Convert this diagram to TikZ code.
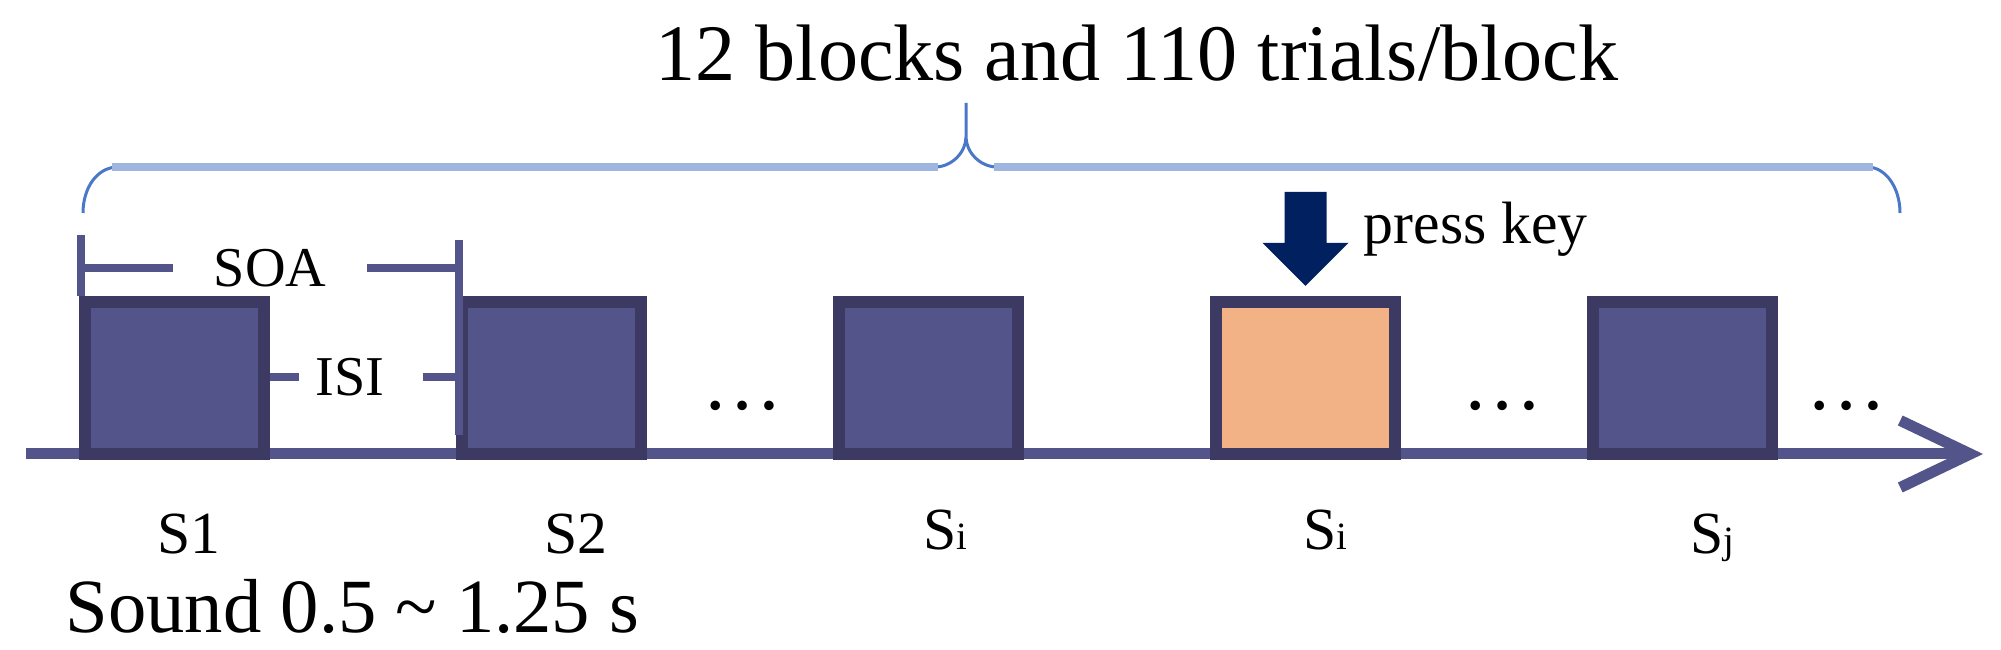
\documentclass[tikz,border=0pt]{standalone}
\usepackage{fontspec}
\setmainfont{Liberation Serif}
\usetikzlibrary{positioning,arrows.meta}
\definecolor{boxfill}{HTML}{53548A}
\definecolor{boxline}{HTML}{3C3A63}
\definecolor{tgtfill}{HTML}{F3B186}
\definecolor{keyblue}{HTML}{002060}
\definecolor{bracelight}{HTML}{9FB7E0}
\definecolor{bracedark}{HTML}{4A78C8}
\tikzset{
    stim/.style     = { rectangle, draw=boxline, line width=1.2mm,
	fill=boxfill, minimum width=17.9mm, minimum height=15.2mm, inner sep=0pt },
	target/.style   = { stim, fill=tgtfill },
	axis/.style     = { draw=boxfill, line width=1.1mm,
	-{Straight Barb[length=7mm,width=6.7mm]} },
	tick/.style     = { draw=boxfill, line width=0.8mm },
	lbl/.style      = { font=\fontsize{17}{20}\selectfont, inner sep=0pt, anchor=base },
	big/.style      = { font=\fontsize{22.8}{27}\selectfont, inner sep=0pt, anchor=base },
	spanlbl/.style  = { font=\fontsize{16}{19}\selectfont, inner ysep=0pt },
}
\newcommand{\subidx}[1]{{\fontsize{11}{11}\selectfont #1}}

\begin{document}
\begin{tikzpicture}[x=0.1mm, y=-0.1mm]
				\useasboundingbox (0,0) rectangle (2001,650);
				\coordinate (t0) at (26,454);
				\coordinate (t1) at (1983,454);
				\draw[axis] (t0) -- (t1);
				\node (s1) [stim] at (174.5,378) {};
				\node (s2) [stim, right=18.6mm of s1] {};
				\node (s3) [stim, right=18.6mm of s2] {};
				\node (s4) [target, right=18.6mm of s3] {};
				\node (s5) [stim, right=18.6mm of s4] {};
				\draw[bracedark, line width=0.3mm] (83,213) .. controls (83,188) and (97,167) .. (118,167) -- (935,167)
				  .. controls (952,167) and (966,152) .. (966,137) -- (966,103) -- (966,137)
				  .. controls (966,152) and (980,167) .. (997,167) -- (1867,167)
				  .. controls (1886,167) and (1900,188) .. (1900,213);
				\draw[bracelight, line width=0.8mm] (112,167) -- (938,167) (994,167) -- (1873,167);
				\node (ttl) [big] at (1137,81) {12 blocks and 110 trials/block};
				\coordinate (soaA) at (81,235);
				\coordinate (soaB) at (459,240);
				\coordinate (soaC) at (459,435);
				\node (soa) [spanlbl, inner xsep=4mm] at (270,268) {SOA};
				\node (isi) [spanlbl, inner xsep=1.6mm] at (350,377) {ISI};
				\draw[tick] (soaA) -- (soaA |- s1.north);
				\draw[tick] (soaB) -- (soaC);
				\draw[tick] (soaA |- soa) -- (soa.west);
				\draw[tick] (soa.east) -- (soaB |- soa);
				\draw[tick] (s1.east |- isi) -- (isi.west);
				\draw[tick, shorten <=2.2mm] (isi.east) -- (soaB |- isi);
				\fill[keyblue] ([yshift=1mm]s4.north) -- ++(-43,-43) -- ++(22,0) -- ++(0,-51) -- ++(42,0) -- ++(0,51) -- ++(22,0) -- cycle;
				\node (key) [lbl, anchor=base west] at (1363,244) {press key};
				\node (d1) [big] at (743,410) {…};
				\node (d2) [big] at (1503,410) {…};
				\node (d3) [big] at (1847,410) {…};
				\node (l1) [lbl] at (189,554) {S1};
				\node (l2) [lbl] at (576,554) {S2};
				\node (l3) [lbl] at (945,550) {S\subidx{i}};
				\node (l4) [lbl] at (1325,550) {S\subidx{i}};
				\node (l5) [lbl] at (1712,554) {S\subidx{j}};
				\node (snd) [big, font=\fontsize{21.8}{26}\selectfont, anchor=base west] at (65,633) {Sound 0.5 \textasciitilde{} 1.25 s};
				\end{tikzpicture}
\end{document}
